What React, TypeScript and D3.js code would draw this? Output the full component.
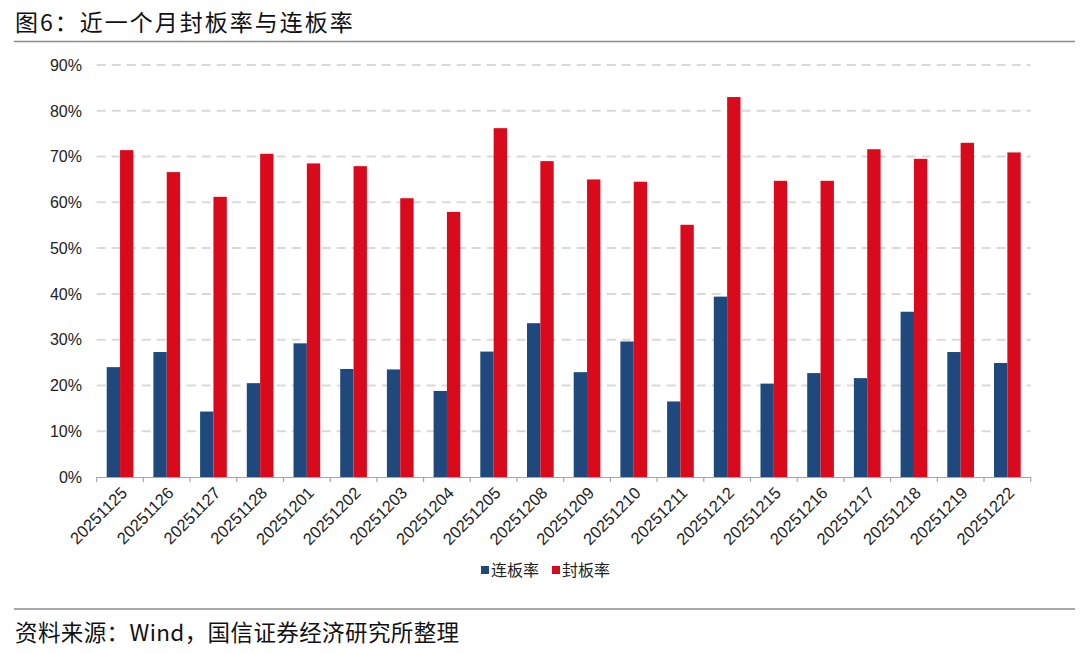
import React, { useEffect, useRef } from 'react';
import * as d3 from 'd3';

const dates = [
  '20251125', '20251126', '20251127', '20251128', '20251201', '20251202', '20251203',
  '20251204', '20251205', '20251208', '20251209', '20251210', '20251211', '20251212',
  '20251215', '20251216', '20251217', '20251218', '20251219', '20251222',
];
// 连板率 (%)
const lianban = [24.0, 27.3, 14.3, 20.5, 29.2, 23.6, 23.5, 18.8, 27.4, 33.6, 22.9, 29.6, 16.5, 39.4, 20.4, 22.7, 21.6, 36.1, 27.3, 24.9];
// 封板率 (%)
const fengban = [71.4, 66.6, 61.2, 70.6, 68.5, 67.9, 60.9, 57.9, 76.2, 69.0, 65.0, 64.5, 55.1, 83.0, 64.7, 64.7, 71.6, 69.5, 73.0, 70.9];
const seriesNames = ['连板率', '封板率'];
const seriesColors = ['#1F497D', '#D90A1B'];
const yTicks = [0, 10, 20, 30, 40, 50, 60, 70, 80, 90];

const W = 1080;
const H = 653;
const cjk = '"Noto Sans CJK SC", "Noto Sans", sans-serif';
const latin = '"Liberation Sans", Arial, sans-serif';

const Chart: React.FC = () => {
  const svgRef = useRef<SVGSVGElement>(null);

  useEffect(() => {
    const svg = d3.select(svgRef.current).attr('width', W).attr('height', H);
    svg.selectAll('*').remove();

    const left = 96.7, right = 1030.7, top = 65, bottom = 477;

    // title
    svg.append('text')
      .attr('x', 15).attr('y', 31)
      .attr('font-family', cjk).attr('font-size', 23).attr('letter-spacing', 2)
      .attr('fill', '#111')
      .text('图6：近一个月封板率与连板率');
    svg.append('line')
      .attr('x1', 14).attr('x2', 1075).attr('y1', 41.5).attr('y2', 41.5)
      .attr('stroke', '#8c8c8c').attr('stroke-width', 1.5);

    const x = d3.scaleBand<string>().domain(dates).range([left, right]).paddingInner(0).paddingOuter(0);
    const x1 = d3.scaleBand<string>().domain(seriesNames).range([0, x.bandwidth()]).paddingInner(0).paddingOuter(0.75);
    const y = d3.scaleLinear().domain([0, 90]).range([bottom, top]);

    // gridlines
    svg.append('g').selectAll('line')
      .data(yTicks.filter((t) => t > 0))
      .join('line')
      .attr('x1', left).attr('x2', right)
      .attr('y1', (d) => y(d)).attr('y2', (d) => y(d))
      .attr('stroke', '#d9d9d9').attr('stroke-width', 2)
      .attr('stroke-dasharray', '9,6');

    // y labels
    svg.append('g').selectAll('text')
      .data(yTicks)
      .join('text')
      .attr('x', 82).attr('y', (d) => y(d)).attr('dy', '0.36em')
      .attr('text-anchor', 'end')
      .attr('font-family', latin).attr('font-size', 16).attr('fill', '#222')
      .text((d) => `${d}%`);

    // bars
    const data = dates.map((d, i) => ({ date: d, values: [lianban[i], fengban[i]] }));
    const groups = svg.append('g').selectAll('g')
      .data(data)
      .join('g')
      .attr('transform', (d) => `translate(${x(d.date)},0)`);
    groups.selectAll('rect')
      .data((d) => d.values.map((v, k) => ({ key: seriesNames[k], v, k })))
      .join('rect')
      .attr('x', (d) => x1(d.key)!)
      .attr('width', x1.bandwidth())
      .attr('y', (d) => y(d.v))
      .attr('height', (d) => y(0) - y(d.v))
      .attr('fill', (d) => seriesColors[d.k]);

    // x axis
    svg.append('line')
      .attr('x1', left).attr('x2', right).attr('y1', bottom + 0.5).attr('y2', bottom + 0.5)
      .attr('stroke', '#a6a6a6').attr('stroke-width', 1.2);
    const tickPos = dates.map((d) => x(d)!).concat([right]);
    svg.append('g').selectAll('line')
      .data(tickPos)
      .join('line')
      .attr('x1', (d) => d).attr('x2', (d) => d)
      .attr('y1', bottom).attr('y2', bottom + 5)
      .attr('stroke', '#a6a6a6').attr('stroke-width', 1.2);

    svg.append('g').selectAll('text')
      .data(dates)
      .join('text')
      .attr('transform', (d) => `translate(${x(d)! + x.bandwidth() / 2 + 4},${bottom + 13}) rotate(-45)`)
      .attr('text-anchor', 'end')
      .attr('dy', '0.35em')
      .attr('font-family', latin).attr('font-size', 16.5).attr('fill', '#222')
      .text((d) => d);

    // legend
    const legend = svg.append('g').attr('transform', 'translate(481,570)');
    const lx = [0, 71];
    seriesNames.forEach((name, k) => {
      legend.append('rect')
        .attr('x', lx[k]).attr('y', -4).attr('width', 8).attr('height', 8)
        .attr('fill', seriesColors[k]);
      legend.append('text')
        .attr('x', lx[k] + 10).attr('y', 0).attr('dy', '0.35em')
        .attr('font-family', cjk).attr('font-size', 16).attr('fill', '#222')
        .text(name);
    });

    // footer
    svg.append('line')
      .attr('x1', 14).attr('x2', 1075).attr('y1', 609).attr('y2', 609)
      .attr('stroke', '#8c8c8c').attr('stroke-width', 1.5);
    svg.append('text')
      .attr('x', 15).attr('y', 641)
      .attr('font-family', cjk).attr('font-size', 22.5).attr('letter-spacing', 0.4).attr('fill', '#111')
      .text('资料来源：Wind，国信证券经济研究所整理');
  }, []);

  return <svg ref={svgRef} style={{ position: 'absolute', left: 0, top: 0, background: '#fff' }}></svg>;
};

export default function App() {
  return <Chart />;
}
